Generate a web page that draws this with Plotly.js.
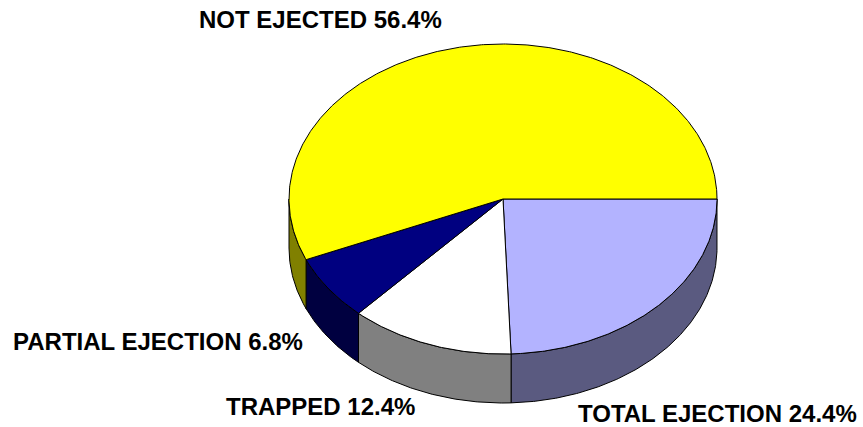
<!DOCTYPE html>
<html>
<head>
<meta charset="utf-8">
<script src="https://cdn.plot.ly/plotly-3.0.1.min.js"></script>
<style>html,body{margin:0;padding:0;background:#fff}</style>
</head>
<body>
<div id="chart" style="width:863px;height:427px"></div>
<script>
var categories = ["TOTAL EJECTION", "TRAPPED", "PARTIAL EJECTION", "NOT EJECTED"];
var shares = [24.4, 12.4, 6.8, 56.4];
var topColors = ["#b3b3ff", "#ffffff", "#000080", "#ffff00"];
var sideColors = ["#5a5a80", "#808080", "#000040", "#808000"];

var cx = 503, cy = 199, rx = 214, ry = 155, depth = 49;
var labelCenters = [[717, 413], [320, 406], [158, 341], [320, 19]];
var labelSize = 24;

function pt(deg, dy) {
  var a = deg * Math.PI / 180;
  return [cx + rx * Math.cos(a), cy + ry * Math.sin(a) + dy];
}
function arc(a0, a1, dy) {
  var out = [], n = Math.max(2, Math.ceil(Math.abs(a1 - a0) * 2));
  for (var i = 0; i <= n; i++) out.push(pt(a0 + (a1 - a0) * i / n, dy));
  return out;
}
function poly(points, color) {
  return {
    type: "scatter", mode: "lines", fill: "toself", fillcolor: color,
    x: points.map(function (p) { return p[0]; }),
    y: points.map(function (p) { return p[1]; }),
    line: { color: "#000000", width: 1 },
    hoverinfo: "skip", showlegend: false
  };
}

var sides = [], tops = [], start = 0;
shares.forEach(function (v, i) {
  var end = start + v * 3.6;
  var visEnd = Math.min(end, 180);
  if (start < 180) {
    sides.push(poly(arc(start, visEnd, 0).concat(arc(visEnd, start, depth)).concat([pt(start, 0)]), sideColors[i]));
  }
  tops.push(poly([[cx, cy]].concat(arc(start, end, 0)).concat([[cx, cy]]), topColors[i]));
  start = end;
});

var annotations = categories.map(function (c, i) {
  return {
    x: labelCenters[i][0], y: labelCenters[i][1], xref: "x", yref: "y",
    text: c + " " + shares[i].toFixed(1) + "%", showarrow: false,
    xanchor: "center", yanchor: "middle",
    font: { family: "Liberation Sans, Arial, sans-serif", size: labelSize, color: "#000000", weight: 700 }
  };
});

Plotly.newPlot("chart", sides.concat(tops), {
  width: 863, height: 427,
  margin: { l: 0, r: 0, t: 0, b: 0 },
  paper_bgcolor: "#ffffff", plot_bgcolor: "#ffffff",
  showlegend: false,
  xaxis: { range: [0, 863], visible: false, fixedrange: true },
  yaxis: { range: [427, 0], visible: false, fixedrange: true },
  annotations: annotations
}, { displayModeBar: false, staticPlot: true });
</script>
</body>
</html>
